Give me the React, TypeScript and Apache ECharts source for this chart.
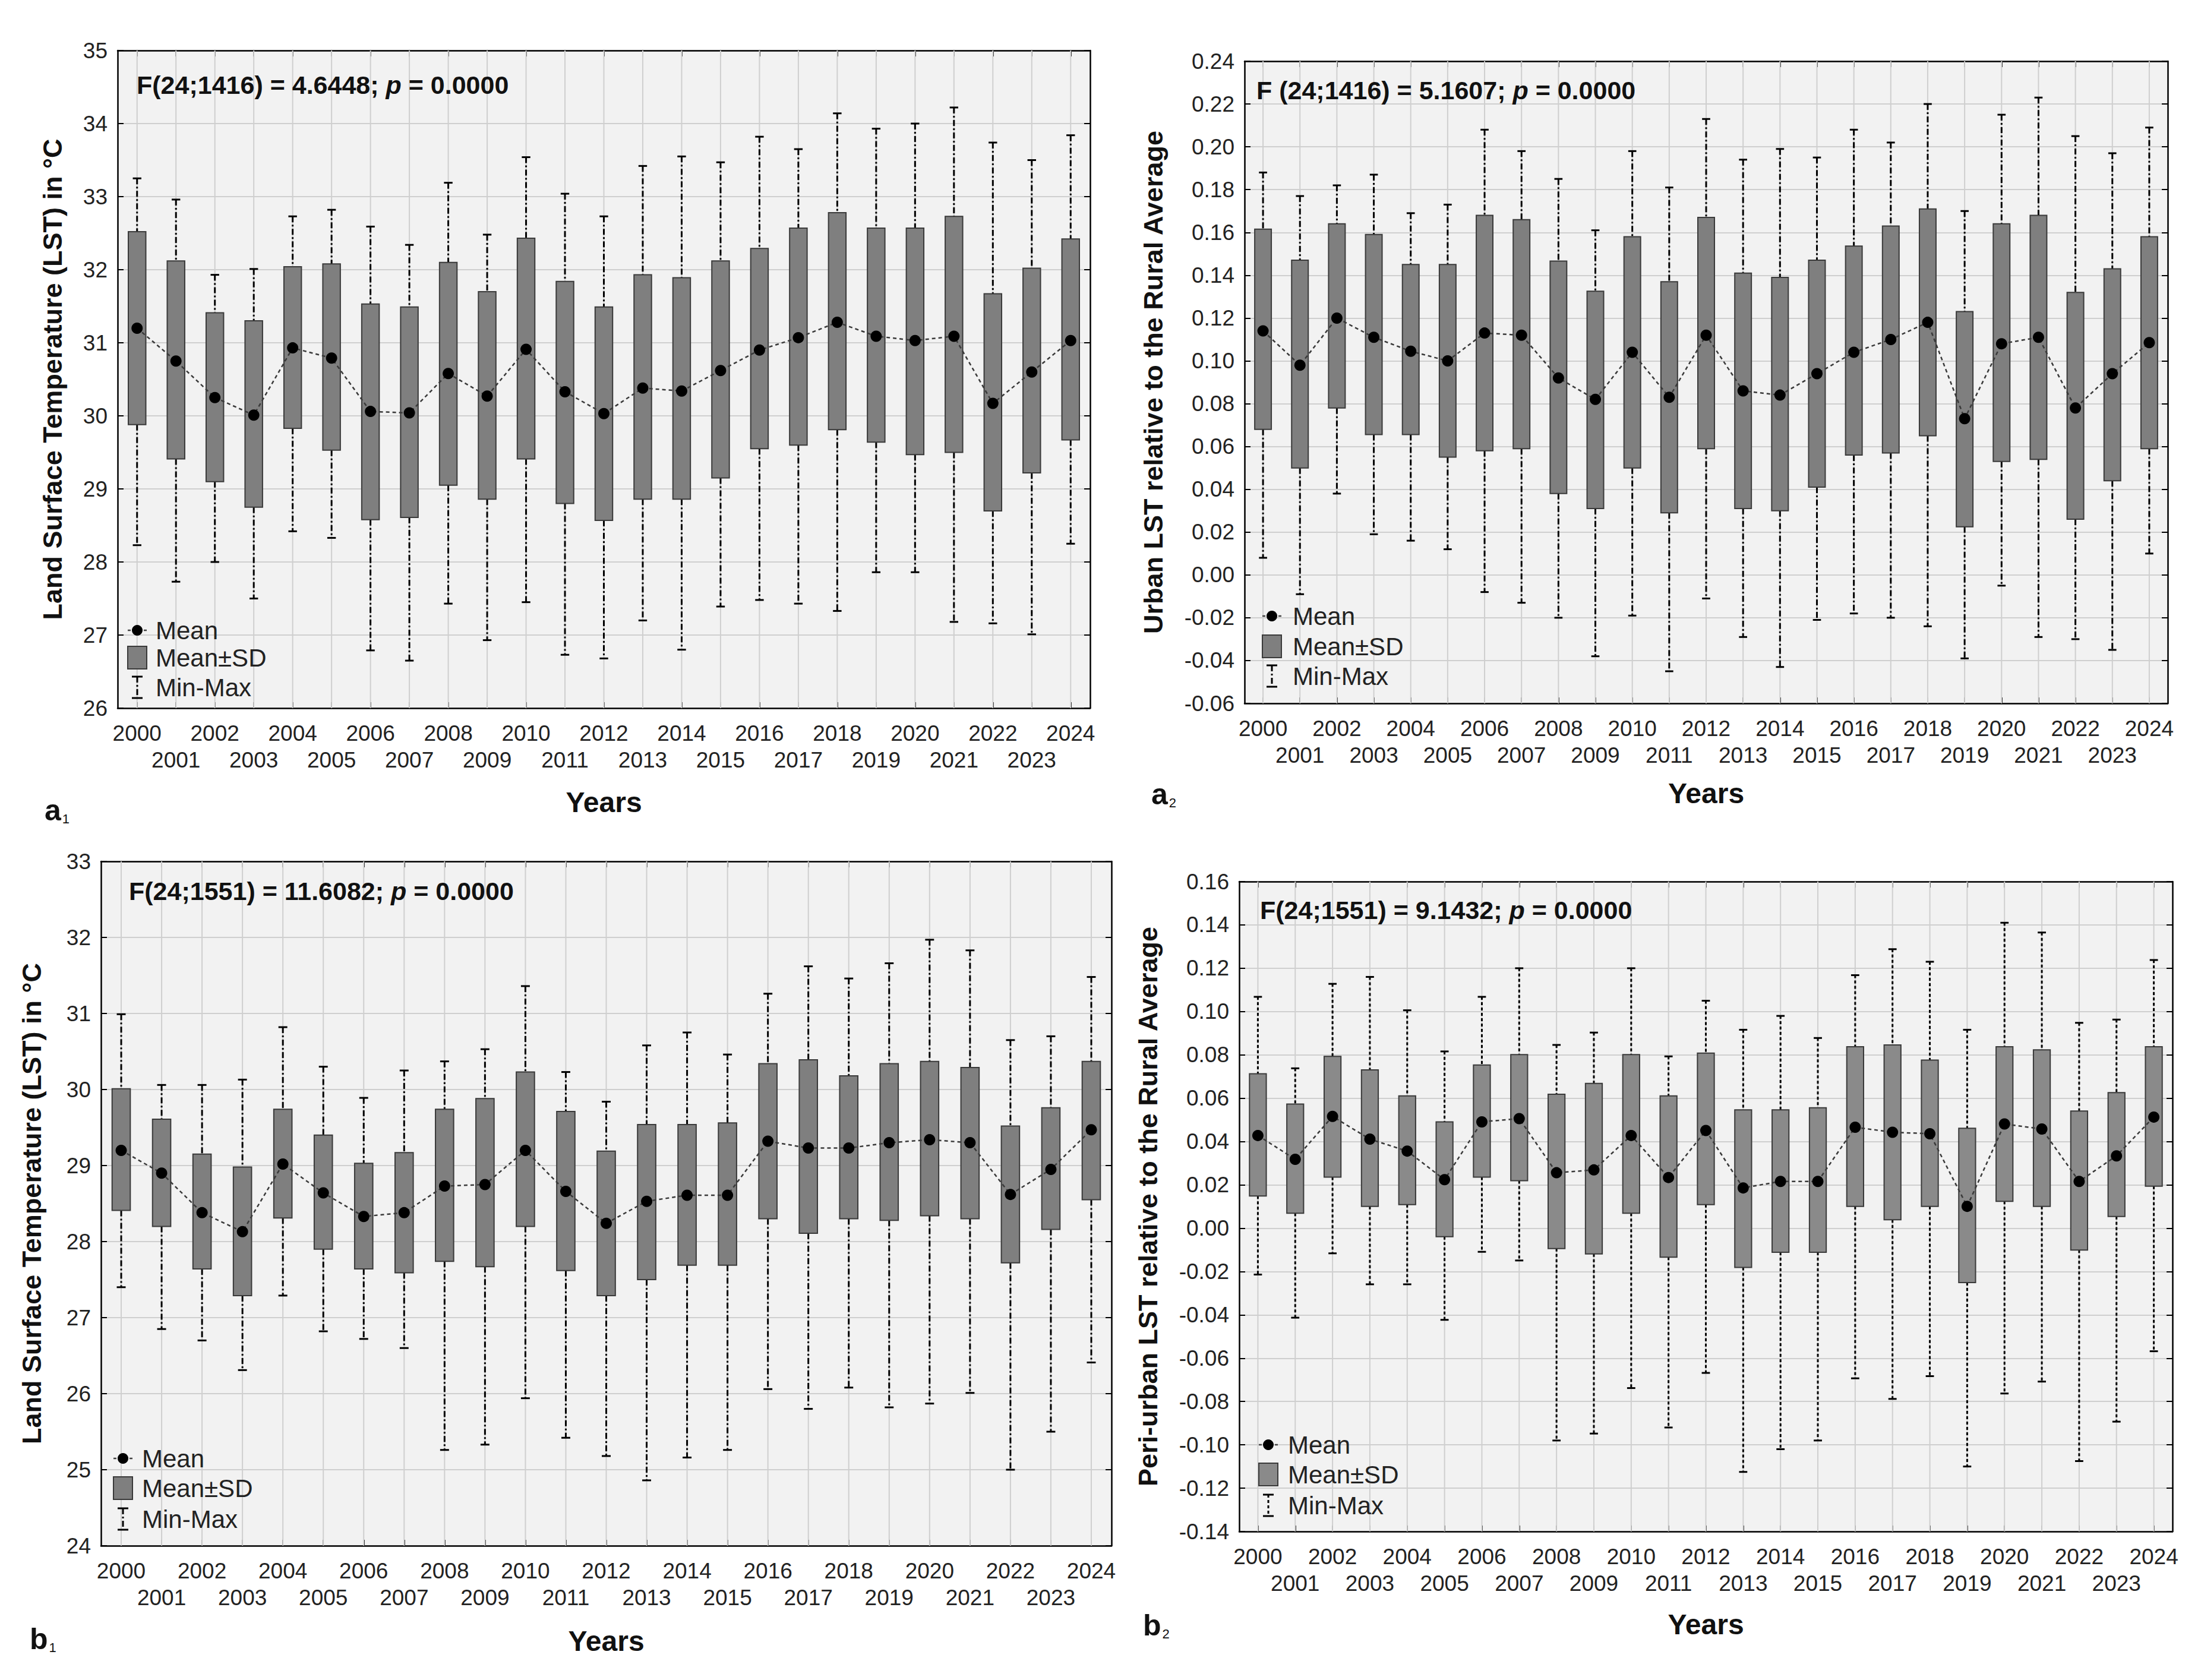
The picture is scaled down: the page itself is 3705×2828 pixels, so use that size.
import React, { useEffect, useRef } from 'react';
import * as echarts from 'echarts';

const years = ['2000','2001','2002','2003','2004','2005','2006','2007','2008','2009','2010','2011','2012','2013','2014','2015','2016','2017','2018','2019','2020','2021','2022','2023','2024'];

// Panel a1: Urban LST (°C)
const a1Mean = [31.2, 30.75, 30.25, 30.01, 30.93, 30.79, 30.06, 30.04, 30.58, 30.27, 30.91, 30.33, 30.03, 30.38, 30.34, 30.62, 30.9, 31.07, 31.28, 31.09, 31.03, 31.09, 30.17, 30.6, 31.03];
const a1Hi = [32.52, 32.12, 31.41, 31.3, 32.04, 32.08, 31.53, 31.49, 32.1, 31.7, 32.43, 31.84, 31.49, 31.93, 31.89, 32.12, 32.29, 32.57, 32.78, 32.57, 32.57, 32.73, 31.67, 32.02, 32.42];
const a1Lo = [29.88, 29.41, 29.1, 28.75, 29.83, 29.53, 28.58, 28.61, 29.05, 28.86, 29.41, 28.8, 28.57, 28.86, 28.86, 29.15, 29.55, 29.6, 29.81, 29.64, 29.47, 29.5, 28.7, 29.22, 29.67];
const a1Max = [33.25, 32.96, 31.93, 32.01, 32.73, 32.82, 32.59, 32.34, 33.19, 32.48, 33.54, 33.04, 32.73, 33.42, 33.55, 33.47, 33.82, 33.65, 34.14, 33.93, 34.0, 34.22, 33.74, 33.5, 33.84];
const a1Min = [28.23, 27.73, 28.0, 27.5, 28.42, 28.33, 26.79, 26.65, 27.43, 26.93, 27.45, 26.73, 26.68, 27.2, 26.8, 27.39, 27.48, 27.43, 27.33, 27.86, 27.86, 27.18, 27.16, 27.01, 28.25];

// Panel a2: Urban LST relative to rural average
const a2Mean = [0.114, 0.098, 0.120, 0.111, 0.1045, 0.100, 0.113, 0.112, 0.092, 0.082, 0.104, 0.083, 0.112, 0.086, 0.084, 0.094, 0.104, 0.110, 0.118, 0.073, 0.108, 0.111, 0.078, 0.094, 0.1085];
const a2Hi = [0.1615, 0.147, 0.164, 0.159, 0.145, 0.145, 0.168, 0.166, 0.1466, 0.1325, 0.158, 0.137, 0.167, 0.141, 0.139, 0.147, 0.1536, 0.163, 0.171, 0.123, 0.164, 0.168, 0.132, 0.143, 0.158];
const a2Lo = [0.068, 0.050, 0.078, 0.0656, 0.0656, 0.055, 0.058, 0.059, 0.038, 0.031, 0.050, 0.029, 0.059, 0.031, 0.030, 0.041, 0.056, 0.057, 0.065, 0.0225, 0.053, 0.054, 0.026, 0.044, 0.059];
const a2Max = [0.188, 0.177, 0.182, 0.187, 0.169, 0.173, 0.208, 0.198, 0.185, 0.161, 0.198, 0.181, 0.213, 0.194, 0.199, 0.195, 0.208, 0.202, 0.220, 0.170, 0.215, 0.223, 0.205, 0.197, 0.209];
const a2Min = [0.008, -0.009, 0.038, 0.019, 0.016, 0.012, -0.008, -0.013, -0.020, -0.038, -0.019, -0.045, -0.011, -0.029, -0.043, -0.021, -0.018, -0.020, -0.024, -0.039, -0.005, -0.029, -0.030, -0.035, 0.010];

// Panel b1: Peri-urban LST (°C)
const b1Mean = [29.2, 28.9, 28.38, 28.13, 29.02, 28.64, 28.33, 28.38, 28.73, 28.75, 29.2, 28.66, 28.24, 28.53, 28.61, 28.61, 29.32, 29.23, 29.23, 29.3, 29.34, 29.3, 28.62, 28.95, 29.47];
const b1Hi = [30.01, 29.61, 29.15, 28.98, 29.74, 29.4, 29.03, 29.17, 29.74, 29.88, 30.23, 29.71, 29.19, 29.54, 29.54, 29.56, 30.34, 30.39, 30.18, 30.34, 30.37, 30.29, 29.52, 29.76, 30.37];
const b1Lo = [28.41, 28.2, 27.64, 27.29, 28.31, 27.9, 27.64, 27.59, 27.74, 27.67, 28.2, 27.62, 27.29, 27.5, 27.69, 27.69, 28.3, 28.11, 28.3, 28.28, 28.34, 28.3, 27.72, 28.16, 28.55];
const b1Max = [30.99, 30.06, 30.06, 30.13, 30.82, 30.3, 29.89, 30.25, 30.37, 30.53, 31.36, 30.23, 29.84, 30.58, 30.75, 30.46, 31.26, 31.62, 31.46, 31.66, 31.97, 31.83, 30.65, 30.7, 31.48];
const b1Min = [27.4, 26.85, 26.7, 26.31, 27.29, 26.82, 26.72, 26.6, 25.26, 25.33, 25.94, 25.42, 25.18, 24.86, 25.16, 25.26, 26.06, 25.8, 26.08, 25.82, 25.87, 26.01, 25.0, 25.5, 26.41];

// Panel b2: Peri-urban LST relative to rural average
const b2Mean = [0.0428, 0.0318, 0.0516, 0.0411, 0.0356, 0.0224, 0.0491, 0.0506, 0.0256, 0.0269, 0.0428, 0.0234, 0.0451, 0.0186, 0.0216, 0.0216, 0.0466, 0.0443, 0.0436, 0.0101, 0.0481, 0.0458, 0.0216, 0.0334, 0.0513];
const b2Hi = [0.0713, 0.0573, 0.0793, 0.0731, 0.0611, 0.0491, 0.0753, 0.0801, 0.0618, 0.0668, 0.0801, 0.0611, 0.0808, 0.0546, 0.0546, 0.0556, 0.0838, 0.0846, 0.0776, 0.0461, 0.0838, 0.0823, 0.0541, 0.0626, 0.0838];
const b2Lo = [0.0149, 0.0069, 0.0236, 0.0101, 0.0109, -0.0039, 0.0236, 0.0219, -0.0094, -0.0119, 0.0069, -0.0134, 0.0109, -0.0181, -0.0111, -0.0111, 0.0101, 0.0039, 0.0101, -0.0251, 0.0124, 0.0101, -0.0101, 0.0054, 0.0194];
const b2Max = [0.1068, 0.0738, 0.1128, 0.116, 0.1006, 0.0816, 0.1068, 0.12, 0.0846, 0.0903, 0.12, 0.0793, 0.105, 0.0916, 0.098, 0.0878, 0.1168, 0.1288, 0.123, 0.0916, 0.141, 0.1365, 0.0948, 0.0963, 0.1238];
const b2Min = [-0.0214, -0.0413, -0.0116, -0.0259, -0.0259, -0.0423, -0.0109, -0.0149, -0.098, -0.0948, -0.0738, -0.092, -0.0668, -0.1125, -0.102, -0.098, -0.0693, -0.0788, -0.0683, -0.11, -0.0763, -0.0708, -0.1075, -0.0893, -0.0568];

const FONT = '"Liberation Sans", Arial, Helvetica, sans-serif';

const panels = [
  {
    grid: { left: 198, top: 85, width: 1637, height: 1107 },
    yMin: 26, yMax: 35, yInt: 1, dec: 0,
    yName: 'Land Surface Temperature (LST) in °C', yGap: 87, xGap: 134,
    mean: a1Mean, hi: a1Hi, lo: a1Lo, max: a1Max, min: a1Min,
    fill: '#7f7f7f', dash: [10, 4, 3, 4],
    fText: ['F(24;1416) = 4.6448; ', ' = 0.0000'], fX: 230, fY: 143,
    leg: { ix: 231, tx: 262, ys: [1061, 1107, 1157] },
    lab: { t: 'a', s: '1', x: 75, y: 1362 },
  },
  {
    grid: { left: 2095, top: 103, width: 1554, height: 1081 },
    yMin: -0.06, yMax: 0.24, yInt: 0.02, dec: 2,
    yName: 'Urban LST relative to the Rural Average', yGap: 131, xGap: 127,
    mean: a2Mean, hi: a2Hi, lo: a2Lo, max: a2Max, min: a2Min,
    fill: '#7f7f7f', dash: [10, 4, 3, 4],
    fText: ['F (24;1416) = 5.1607; ', ' = 0.0000'], fX: 2115, fY: 152,
    leg: { ix: 2141, tx: 2176, ys: [1037, 1088, 1138] },
    lab: { t: 'a', s: '2', x: 1938, y: 1335 },
  },
  {
    grid: { left: 170, top: 1450, width: 1701, height: 1152 },
    yMin: 24, yMax: 33, yInt: 1, dec: 0,
    yName: 'Land Surface Temperature (LST) in °C', yGap: 94, xGap: 136,
    mean: b1Mean, hi: b1Hi, lo: b1Lo, max: b1Max, min: b1Min,
    fill: '#7f7f7f', dash: [10, 4, 3, 4],
    fText: ['F(24;1551) = 11.6082; ', ' = 0.0000'], fX: 217, fY: 1500,
    leg: { ix: 207, tx: 239, ys: [2455, 2505, 2557] },
    lab: { t: 'b', s: '1', x: 50, y: 2757 },
  },
  {
    grid: { left: 2086, top: 1484, width: 1571, height: 1094 },
    yMin: -0.14, yMax: 0.16, yInt: 0.02, dec: 2,
    yName: 'Peri-urban LST relative to the Rural Average', yGap: 131, xGap: 132,
    mean: b2Mean, hi: b2Hi, lo: b2Lo, max: b2Max, min: b2Min,
    fill: '#8a8a8a', dash: [5, 4],
    fText: ['F(24;1551) = 9.1432; ', ' = 0.0000'], fX: 2121, fY: 1532,
    leg: { ix: 2135, tx: 2168, ys: [2432, 2482, 2534] },
    lab: { t: 'b', s: '2', x: 1924, y: 2734 },
  },
];

function makeRenderItem(dash: number[], fill: string) {
  return (params: any, api: any) => {
    const i = api.value(0);
    const cs = params.coordSys;
    const pMin = api.coord([i, api.value(1)]);
    const pLo = api.coord([i, api.value(2)]);
    const pHi = api.coord([i, api.value(3)]);
    const pMax = api.coord([i, api.value(4)]);
    const band = api.size([1, 0])[0];
    const bw = band * 0.45;
    const cw = band * 0.22;
    const x = pMin[0];
    const wStyle = { stroke: '#000', lineWidth: 3, lineDash: dash, fill: null };
    const cStyle = { stroke: '#000', lineWidth: 3, fill: null };
    return {
      type: 'group',
      children: [
        { type: 'line', shape: { x1: x, y1: cs.y, x2: x, y2: cs.y + cs.height }, style: { stroke: '#cfcfcf', lineWidth: 2 } },
        { type: 'line', shape: { x1: x, y1: pMax[1], x2: x, y2: pHi[1] }, style: wStyle },
        { type: 'line', shape: { x1: x, y1: pLo[1], x2: x, y2: pMin[1] }, style: wStyle },
        { type: 'line', shape: { x1: x - cw / 2, y1: pMax[1], x2: x + cw / 2, y2: pMax[1] }, style: cStyle },
        { type: 'line', shape: { x1: x - cw / 2, y1: pMin[1], x2: x + cw / 2, y2: pMin[1] }, style: cStyle },
        { type: 'rect', shape: { x: x - bw / 2, y: pHi[1], width: bw, height: pLo[1] - pHi[1] }, style: { fill, stroke: '#3a3a3a', lineWidth: 2 } },
      ],
    };
  };
}

function legendGraphics(p: any) {
  const { ix, tx, ys } = p.leg;
  const txt = (t: string, y: number) => ({
    type: 'text', x: tx, y, style: { text: t, font: `42px ${FONT}`, fill: '#222', verticalAlign: 'middle', align: 'left' },
  });
  return [
    { type: 'line', shape: { x1: ix - 16, y1: ys[0], x2: ix + 18, y2: ys[0] }, style: { stroke: '#444', lineWidth: 2.5, lineDash: [5, 4] } },
    { type: 'circle', shape: { cx: ix, cy: ys[0], r: 9 }, style: { fill: '#000' } },
    txt('Mean', ys[0]),
    { type: 'rect', shape: { x: ix - 16, y: ys[1] - 19, width: 32, height: 38 }, style: { fill: p.fill, stroke: '#3a3a3a', lineWidth: 2 } },
    txt('Mean±SD', ys[1]),
    { type: 'line', shape: { x1: ix - 9, y1: ys[2] - 18, x2: ix + 9, y2: ys[2] - 18 }, style: { stroke: '#000', lineWidth: 3 } },
    { type: 'line', shape: { x1: ix, y1: ys[2] - 18, x2: ix, y2: ys[2] + 18 }, style: { stroke: '#000', lineWidth: 3, lineDash: p.dash } },
    { type: 'line', shape: { x1: ix - 9, y1: ys[2] + 18, x2: ix + 9, y2: ys[2] + 18 }, style: { stroke: '#000', lineWidth: 3 } },
    txt('Min-Max', ys[2]),
  ];
}

export default function App() {
  const ref = useRef<HTMLDivElement>(null);
  useEffect(() => {
    if (!ref.current) return;
    const chart = echarts.init(ref.current, null, { renderer: 'svg' });
    const grids: any[] = [];
    const xAxes: any[] = [];
    const yAxes: any[] = [];
    const series: any[] = [];
    const graphic: any[] = [];

    panels.forEach((p, g) => {
      grids.push({ ...p.grid, show: true, backgroundColor: '#f2f2f2', borderWidth: 0, containLabel: false });
      const fmtY = (v: number) => (Math.abs(v) < 1e-9 ? 0 : v).toFixed(p.dec);
      xAxes.push({
        type: 'category', gridIndex: g, data: years, position: 'bottom',
        axisLine: { show: true, onZero: false, lineStyle: { color: '#000', width: 2.5 } },
        axisTick: { show: true, inside: true, alignWithLabel: true, length: 10, lineStyle: { color: '#000', width: 2 } },
        axisLabel: {
          interval: 0, fontSize: 37, fontFamily: FONT, color: '#222', margin: 20, lineHeight: 45,
          formatter: (v: string, idx: number) => (idx % 2 ? '\n' + v : v),
        },
        splitLine: { show: false },
        name: 'Years', nameLocation: 'middle', nameGap: p.xGap,
        nameTextStyle: { fontSize: 48, fontWeight: 'bold', fontFamily: FONT, color: '#111' },
      });
      xAxes.push({
        type: 'category', gridIndex: g, data: years, position: 'top',
        axisLine: { show: true, onZero: false, lineStyle: { color: '#000', width: 2.5 } },
        axisTick: { show: true, inside: true, alignWithLabel: true, length: 10, lineStyle: { color: '#000', width: 2 } },
        axisLabel: { show: false }, splitLine: { show: false },
      });
      yAxes.push({
        type: 'value', gridIndex: g, min: p.yMin, max: p.yMax, interval: p.yInt, position: 'left',
        axisLine: { show: true, onZero: false, lineStyle: { color: '#000', width: 2.5 } },
        axisTick: { show: true, inside: true, length: 10, lineStyle: { color: '#000', width: 2 } },
        axisLabel: { fontSize: 37, fontFamily: FONT, color: '#222', margin: 17, formatter: fmtY },
        splitLine: { show: true, lineStyle: { color: '#cfcfcf', width: 2 } },
        name: p.yName, nameLocation: 'middle', nameGap: p.yGap, nameRotate: 90,
        nameTextStyle: { fontSize: 45, fontWeight: 'bold', fontFamily: FONT, color: '#111' },
      });
      yAxes.push({
        type: 'value', gridIndex: g, min: p.yMin, max: p.yMax, interval: p.yInt, position: 'right',
        axisLine: { show: true, onZero: false, lineStyle: { color: '#000', width: 2.5 } },
        axisTick: { show: true, inside: true, length: 10, lineStyle: { color: '#000', width: 2 } },
        axisLabel: { show: false }, splitLine: { show: false },
      });
      series.push({
        type: 'custom', xAxisIndex: 2 * g, yAxisIndex: 2 * g,
        renderItem: makeRenderItem(p.dash, p.fill),
        encode: { x: 0, y: [1, 2, 3, 4] },
        data: years.map((_, i) => [i, p.min[i], p.lo[i], p.hi[i], p.max[i]]),
        z: 2,
      });
      series.push({
        type: 'line', xAxisIndex: 2 * g, yAxisIndex: 2 * g, data: p.mean,
        symbol: 'circle', symbolSize: 19, itemStyle: { color: '#000' },
        lineStyle: { color: '#3a3a3a', width: 2.5, type: [6, 5] }, z: 5,
      });

      graphic.push({
        type: 'text', x: p.fX, y: p.fY,
        style: {
          text: `{b|${p.fText[0]}}{i|p}{b|${p.fText[1]}}`,
          verticalAlign: 'middle', align: 'left',
          rich: {
            b: { fontSize: 43, fontWeight: 'bold', fontFamily: FONT, fill: '#111' },
            i: { fontSize: 43, fontWeight: 'bold', fontStyle: 'italic', fontFamily: FONT, fill: '#111' },
          },
        },
        z: 10,
      });
      legendGraphics(p).forEach((el) => graphic.push({ ...el, z: 10 }));
      graphic.push({
        type: 'text', x: p.lab.x, y: p.lab.y,
        style: {
          text: `{a|${p.lab.t}}{s|${p.lab.s}}`, verticalAlign: 'middle', align: 'left',
          rich: {
            a: { fontSize: 50, fontWeight: 'bold', fontFamily: FONT, fill: '#111', lineHeight: 54, verticalAlign: 'bottom' },
            s: { fontSize: 22, fontFamily: FONT, fill: '#111', lineHeight: 54, verticalAlign: 'bottom', padding: [0, 0, 0, 2] },
          },
        },
      });
    });

    chart.setOption({
      animation: false,
      backgroundColor: '#ffffff',
      grid: grids, xAxis: xAxes, yAxis: yAxes, series, graphic,
    });
    return () => chart.dispose();
  }, []);
  return <div ref={ref} style={{ position: 'absolute', left: 0, top: 0, width: 3705, height: 2828, background: '#fff' }} />;
}
